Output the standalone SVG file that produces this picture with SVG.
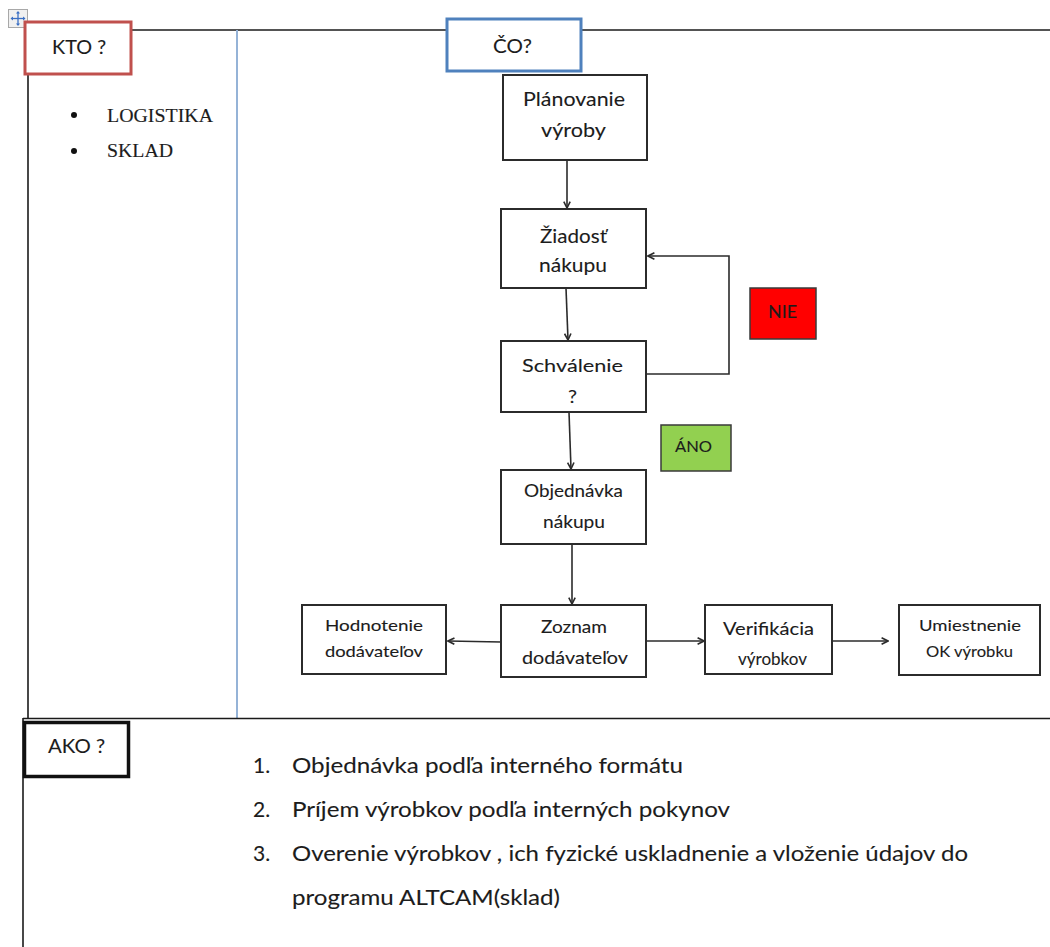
<svg xmlns="http://www.w3.org/2000/svg" width="1050" height="947" viewBox="0 0 1050 947">
  <style>
    .grid { stroke: #1a1a1a; stroke-width: 1.6; fill: none; }
    .lane { stroke: #95b3d7; stroke-width: 2; fill: none; }
    .box { fill: #ffffff; stroke: #2b2b2b; stroke-width: 2; }
    .conn { stroke: #2b2b2b; stroke-width: 1.6; fill: none; }
    .lbl { font-family: Lato, "Liberation Sans", Arial, sans-serif; fill: #1c1c1c; stroke: #1c1c1c; stroke-width: 0.1; }
    .ser { font-family: "Liberation Serif", "Times New Roman", serif; fill: #1c1c1c; stroke: #1c1c1c; stroke-width: 0.15; }
  </style>
  <defs>
    <marker id="arr" viewBox="0 0 10 10" refX="9" refY="5" markerWidth="8" markerHeight="8" markerUnits="userSpaceOnUse" orient="auto">
      <polyline points="1,1 9,5 1,9" fill="none" stroke="#2b2b2b" stroke-width="2"/>
    </marker>
  </defs>

  <rect width="1050" height="947" fill="#ffffff"/>

  <!-- table frame -->
  <g id="table">
    <line class="grid" x1="28" y1="30" x2="1050" y2="30"/>
    <line class="grid" x1="28" y1="30" x2="28" y2="718"/>
    <line class="lane" x1="237" y1="30" x2="237" y2="718"/>
    <line class="grid" x1="23" y1="718.5" x2="1050" y2="718.5"/>
    <line class="grid" x1="23" y1="718" x2="23" y2="947"/>
  </g>

  <!-- table move handle -->
  <g id="move-handle">
    <rect x="8.5" y="9.5" width="19" height="18" fill="#f0f0f0" stroke="#a8a8a8" stroke-width="1"/>
    <g stroke="#3a6fc4" stroke-width="1.3" fill="#3a6fc4">
      <line x1="18" y1="12" x2="18" y2="25"/>
      <line x1="11.5" y1="18.5" x2="24.5" y2="18.5"/>
      <polygon points="18,11 16,13.5 20,13.5" stroke="none"/>
      <polygon points="18,26 16,23.5 20,23.5" stroke="none"/>
      <polygon points="10.5,18.5 13,16.5 13,20.5" stroke="none"/>
      <polygon points="25.5,18.5 23,16.5 23,20.5" stroke="none"/>
    </g>
  </g>

  <!-- section headers -->
  <g id="kto">
    <rect x="25" y="22" width="106" height="52" fill="#ffffff" stroke="#c0504d" stroke-width="3"/>
    <text class="lbl" x="52" y="54" font-size="19" textLength="54" lengthAdjust="spacingAndGlyphs">KTO ?</text>
  </g>
  <g id="co">
    <rect x="447" y="19" width="134" height="52" fill="#ffffff" stroke="#4f81bd" stroke-width="3"/>
    <text class="lbl" x="493" y="53" font-size="19" textLength="39" lengthAdjust="spacingAndGlyphs">ČO?</text>
  </g>
  <g id="ako">
    <rect x="24.5" y="722.5" width="104" height="54" fill="#ffffff" stroke="#111111" stroke-width="3.5"/>
    <text class="lbl" x="48" y="753" font-size="19" textLength="57" lengthAdjust="spacingAndGlyphs">AKO ?</text>
  </g>

  <!-- who -->
  <g id="kto-list">
    <circle cx="74" cy="115" r="3" fill="#111"/>
    <circle cx="74" cy="151" r="3" fill="#111"/>
    <text class="ser" x="107" y="122" font-size="19" textLength="106" lengthAdjust="spacingAndGlyphs">LOGISTIKA</text>
    <text class="ser" x="107" y="157" font-size="19" textLength="66" lengthAdjust="spacingAndGlyphs">SKLAD</text>
  </g>

  <!-- connectors -->
  <g id="connectors">
    <line class="conn" x1="567" y1="160" x2="567" y2="208" marker-end="url(#arr)"/>
    <line class="conn" x1="566" y1="288" x2="568" y2="340" marker-end="url(#arr)"/>
    <polyline class="conn" points="646,374 729,374 729,256 648,256" marker-end="url(#arr)"/>
    <line class="conn" x1="569" y1="412" x2="571" y2="469" marker-end="url(#arr)"/>
    <line class="conn" x1="572" y1="544" x2="572" y2="604" marker-end="url(#arr)"/>
    <line class="conn" x1="501" y1="642" x2="448" y2="641" marker-end="url(#arr)"/>
    <line class="conn" x1="646" y1="641" x2="704" y2="641" marker-end="url(#arr)"/>
    <line class="conn" x1="832" y1="641" x2="888" y2="641" marker-end="url(#arr)"/>
  </g>

  <!-- process nodes -->
  <g id="planovanie">
    <rect class="box" x="503" y="75" width="144" height="85"/>
    <text class="lbl" x="523" y="106" font-size="20" textLength="102" lengthAdjust="spacingAndGlyphs">Plánovanie</text>
    <text class="lbl" x="541" y="137" font-size="20" textLength="65" lengthAdjust="spacingAndGlyphs">výroby</text>
  </g>
  <g id="ziadost">
    <rect class="box" x="501" y="209" width="145" height="79"/>
    <text class="lbl" x="540" y="243" font-size="19" textLength="67" lengthAdjust="spacingAndGlyphs">Žiadosť</text>
    <text class="lbl" x="539" y="272" font-size="19" textLength="68" lengthAdjust="spacingAndGlyphs">nákupu</text>
  </g>
  <g id="schvalenie">
    <rect class="box" x="501" y="341" width="145" height="71"/>
    <text class="lbl" x="522" y="372" font-size="18" textLength="101" lengthAdjust="spacingAndGlyphs">Schválenie</text>
    <text class="lbl" x="568" y="403" font-size="18" textLength="9" lengthAdjust="spacingAndGlyphs">?</text>
  </g>
  <g id="nie">
    <rect x="750" y="288" width="66" height="51" fill="#ff0000" stroke="#3a3a3a" stroke-width="1.5"/>
    <text class="lbl" x="768" y="318" font-size="17" textLength="29" lengthAdjust="spacingAndGlyphs">NIE</text>
  </g>
  <g id="ano">
    <rect x="661" y="425" width="70" height="46" fill="#92d050" stroke="#3a3a3a" stroke-width="1.5"/>
    <text class="lbl" x="675" y="452" font-size="15" textLength="37" lengthAdjust="spacingAndGlyphs">ÁNO</text>
  </g>
  <g id="objednavka">
    <rect class="box" x="501" y="470" width="145" height="74"/>
    <text class="lbl" x="524" y="497" font-size="17" textLength="99" lengthAdjust="spacingAndGlyphs">Objednávka</text>
    <text class="lbl" x="543" y="528" font-size="17" textLength="62" lengthAdjust="spacingAndGlyphs">nákupu</text>
  </g>
  <g id="zoznam">
    <rect class="box" x="501" y="605" width="145" height="72"/>
    <text class="lbl" x="541" y="633" font-size="18" textLength="66" lengthAdjust="spacingAndGlyphs">Zoznam</text>
    <text class="lbl" x="522" y="664" font-size="18" textLength="106" lengthAdjust="spacingAndGlyphs">dodávateľov</text>
  </g>
  <g id="hodnotenie">
    <rect class="box" x="302" y="605" width="144" height="69"/>
    <text class="lbl" x="325" y="631" font-size="15" textLength="98" lengthAdjust="spacingAndGlyphs">Hodnotenie</text>
    <text class="lbl" x="325" y="657" font-size="15" textLength="98" lengthAdjust="spacingAndGlyphs">dodávateľov</text>
  </g>
  <g id="verifikacia">
    <rect class="box" x="705" y="605" width="127" height="69"/>
    <text class="lbl" x="723" y="635" font-size="18" textLength="91" lengthAdjust="spacingAndGlyphs">Verifikácia</text>
    <text class="lbl" x="738" y="665" font-size="18" textLength="69" lengthAdjust="spacingAndGlyphs">výrobkov</text>
  </g>
  <g id="umiestnenie">
    <rect class="box" x="899" y="605" width="141" height="70"/>
    <text class="lbl" x="919" y="631" font-size="16" textLength="102" lengthAdjust="spacingAndGlyphs">Umiestnenie</text>
    <text class="lbl" x="926" y="657" font-size="16" textLength="87" lengthAdjust="spacingAndGlyphs">OK výrobku</text>
  </g>

  <!-- how -->
  <g id="ako-list" font-size="21">
    <text class="lbl" x="253" y="773">1.</text>
    <text class="lbl" x="292" y="773" textLength="391" lengthAdjust="spacingAndGlyphs">Objednávka podľa interného formátu</text>
    <text class="lbl" x="253" y="817">2.</text>
    <text class="lbl" x="292" y="817" textLength="438" lengthAdjust="spacingAndGlyphs">Príjem výrobkov podľa interných pokynov</text>
    <text class="lbl" x="253" y="861">3.</text>
    <text class="lbl" x="292" y="861" textLength="676" lengthAdjust="spacingAndGlyphs">Overenie výrobkov , ich fyzické uskladnenie a vloženie údajov do</text>
    <text class="lbl" x="292" y="905" textLength="268" lengthAdjust="spacingAndGlyphs">programu ALTCAM(sklad)</text>
  </g>
</svg>
